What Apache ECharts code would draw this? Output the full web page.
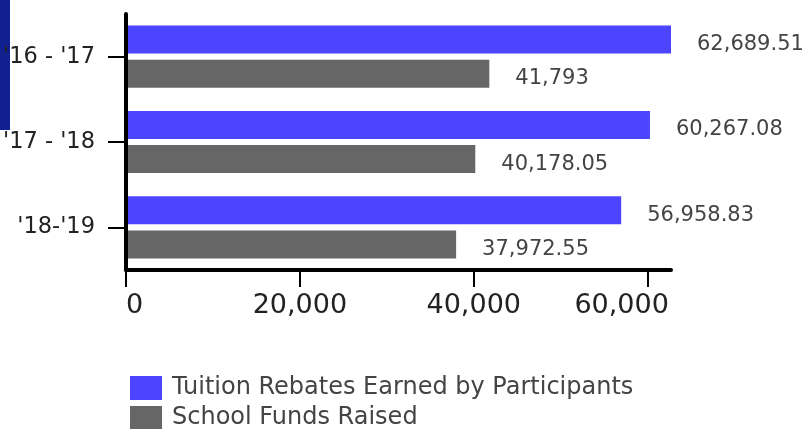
<!DOCTYPE html>
<html>
<head>
<meta charset="utf-8">
<script src="https://cdn.jsdelivr.net/npm/echarts@6/dist/echarts.min.js"></script>
<style>
html,body{margin:0;padding:0;background:#fff;}
#chart{width:806px;height:429px;}
</style>
</head>
<body>
<div id="chart"></div>
<script>
var categories = ["'16 - '17", "'17 - '18", "'18-'19"];
var seriesNames = ["Tuition Rebates Earned by Participants", "School Funds Raised"];
var tuitionRebates = [62689.51, 60267.08, 56958.83];
var schoolFunds = [41793, 40178.05, 37972.55];
var xTickValues = [0, 20000, 40000, 60000];

var FONT = 'DejaVu Sans';
function fmt(v) {
  return Number(v).toLocaleString('en-US', {maximumFractionDigits: 2});
}
var chart = echarts.init(document.getElementById('chart'), null, {renderer: 'canvas'});
var lastTick = xTickValues[xTickValues.length - 1];
chart.setOption({
  animation: false,
  backgroundColor: '#ffffff',
  textStyle: {fontFamily: FONT},
  graphic: {
    z: -10,
    elements: [{
      type: 'rect', left: 0, top: 0, z: -10, z2: -10,
      shape: {width: 10, height: 130},
      style: {fill: '#10218f'}
    }]
  },
  grid: {left: 126, top: 14, right: 135, bottom: 159, containLabel: false, outerBoundsMode: 'none', z: 5},
  legend: {
    orient: 'vertical', left: 130, top: 376, height: 70,
    itemWidth: 32, itemHeight: 24, itemGap: 6,
    padding: 0,
    icon: 'rect',
    textStyle: {fontFamily: FONT, fontSize: 24, color: '#444', padding: [0, 0, 0, 5]},
    data: seriesNames
  },
  xAxis: {
    type: 'value', min: 0, max: 'dataMax',
    axisLine: {show: true, lineStyle: {color: '#000', width: 4}},
    axisTick: {show: true, length: 17, lineStyle: {color: '#000', width: 2}, customValues: xTickValues},
    splitLine: {show: false},
    axisLabel: {
      customValues: xTickValues,
      alignMinLabel: 'left',
      margin: 22, fontFamily: FONT, fontSize: 27, color: '#222',
      formatter: function (v) {
        return v === lastTick ? '{r|' + fmt(v) + '}' : fmt(v);
      },
      rich: {r: {fontFamily: FONT, fontSize: 27, color: '#222', padding: [0, 52, 0, 0]}}
    }
  },
  yAxis: {
    type: 'category', inverse: true, data: categories, z: 5,
    axisLine: {show: true, lineStyle: {color: '#000', width: 4}},
    axisTick: {show: true, alignWithLabel: true, length: 18, lineStyle: {color: '#000', width: 2}},
    axisLabel: {margin: 31, fontFamily: FONT, fontSize: 22.5, color: '#222'}
  },
  series: [{
    name: seriesNames[0], type: 'bar', data: tuitionRebates,
    barWidth: 28, barGap: '22%',
    itemStyle: {color: '#4c44ff'},
    label: {show: true, position: 'right', distance: 26, offset: [0, 5],
      fontFamily: FONT, fontSize: 21, color: '#444',
      formatter: function (p) { return fmt(p.value); }}
  }, {
    name: seriesNames[1], type: 'bar', data: schoolFunds,
    barWidth: 28, barGap: '22%',
    itemStyle: {color: '#666666'},
    label: {show: true, position: 'right', distance: 26, offset: [0, 5],
      fontFamily: FONT, fontSize: 21, color: '#444',
      formatter: function (p) { return fmt(p.value); }}
  }]
});
</script>
</body>
</html>
